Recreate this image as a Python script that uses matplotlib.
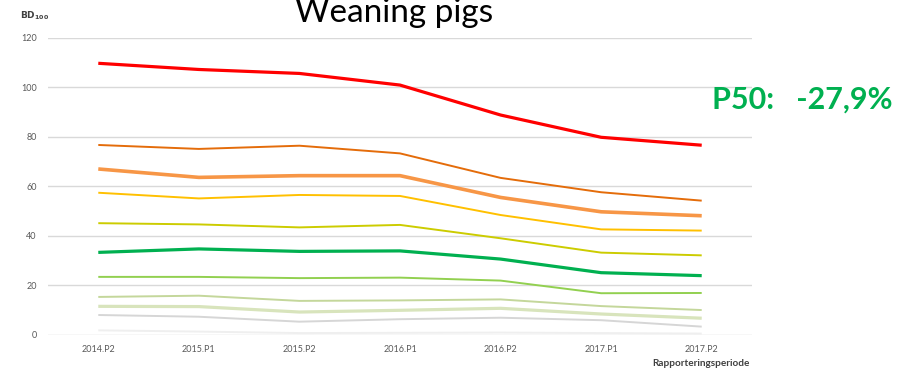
import matplotlib
matplotlib.use("Agg")
from matplotlib import pyplot as plt

plt.rcParams['font.family'] = ['Lato', 'DejaVu Sans']

periods = ['2014.P2', '2015.P1', '2015.P2', '2016.P1', '2016.P2', '2017.P1', '2017.P2']

# percentile series, top to bottom
p_red = [109.7, 107.2, 105.6, 100.9, 88.8, 79.8, 76.6]
p_dark_orange = [76.7, 75.1, 76.4, 73.3, 63.4, 57.6, 54.2]
p_orange = [67.0, 63.6, 64.3, 64.3, 55.5, 49.7, 48.1]
p_yellow = [57.4, 55.1, 56.5, 56.1, 48.4, 42.6, 42.1]
p_olive = [45.1, 44.6, 43.4, 44.4, 39.0, 33.2, 32.1]
p50 = [33.3, 34.7, 33.7, 33.9, 30.6, 25.1, 23.9]
p_light_green = [23.4, 23.4, 22.9, 23.1, 21.9, 16.8, 16.9]
p_pale_green = [15.3, 15.8, 13.7, 13.9, 14.3, 11.6, 10.0]
p_paler_green = [11.5, 11.4, 9.2, 9.9, 10.7, 8.4, 6.7]
p_gray = [8.0, 7.3, 5.3, 6.3, 6.9, 5.9, 3.3]
p_light_gray = [1.8, 1.3, 0.7, 0.8, 0.9, 0.7, 0.5]

yticks = [0, 20, 40, 60, 80, 100, 120]

series = [
    (p_light_gray, '#EFEFEF', 1.4),
    (p_gray, '#D6D6D6', 1.4),
    (p_paler_green, '#D8E4BC', 2.3),
    (p_pale_green, '#C4D79B', 1.4),
    (p_light_green, '#92D050', 1.4),
    (p50, '#00B050', 2.3),
    (p_olive, '#CCCC00', 1.4),
    (p_yellow, '#FFC000', 1.4),
    (p_orange, '#F79646', 2.6),
    (p_dark_orange, '#E46C0A', 1.4),
    (p_red, '#FF0000', 2.3),
]

fig = plt.figure(figsize=(9, 3.68), dpi=100)
ax = fig.add_axes([48 / 900, 33.2 / 368, 704 / 900, 297 / 368])

x = list(range(len(periods)))
for vals, color, lw in series:
    ax.plot(x, vals, color=color, linewidth=lw, solid_capstyle='butt', zorder=3)

ax.set_xlim(-0.5, len(periods) - 0.5)
ax.set_ylim(0, 120)
ax.set_yticks(yticks)
ax.set_xticks(x)
ax.set_xticklabels(periods)
ax.yaxis.grid(True, color='#D9D9D9', linewidth=1.0, zorder=0)
ax.set_axisbelow(True)
for s in ax.spines.values():
    s.set_visible(False)
ax.tick_params(axis='both', length=0, labelsize=6.5, labelcolor='#595959')
ax.tick_params(axis='y', pad=8)
ax.tick_params(axis='x', pad=7)

# title sits on top of the 120 gridline
fig.text(394 / 900, 1 - 22 / 368, 'Weaning pigs', fontsize=24, ha='center',
         va='baseline', color='black',
         bbox=dict(facecolor='white', edgecolor='none', pad=7))

fig.text(20 / 900, 1 - 18 / 368, r'$\bf{BD}_{\bf{100}}$', fontsize=6.5,
         color='#404040', va='baseline')
fig.text(750 / 900, 1 - 366 / 368, 'Rapporteringsperiode', fontsize=7.2,
         fontweight='bold', color='#404040', ha='right', va='baseline')

fig.text(712 / 900, 1 - 100 / 368, 'P50:   -27,9%', fontsize=22, fontweight='bold',
         color='#00B050', va='center')

fig.savefig('out.png', dpi=100)
